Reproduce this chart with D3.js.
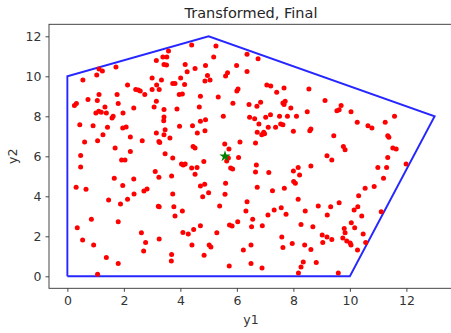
<!DOCTYPE html>
<html>
<head>
<meta charset="utf-8">
<script src="https://cdn.jsdelivr.net/npm/d3@7"></script>
<style>
  body { margin: 0; background: #fff; }
  svg { display: block; font-family: "DejaVu Sans", sans-serif; }
</style>
</head>
<body>
<div id="chart"></div>
<script>
// polygon vertices (closed)
const hullX = [0, 0, 5, 13, 10, 0];
const hullY = [0, 10, 12, 8, 0, 0];

// centre marker
const starX = [5.58];
const starY = [6.0];

// scattered points
const pointsX = [4.40,5.26,3.58,6.36,6.75,5.18,3.15,3.38,3.52,3.42,3.51,4.17,4.89,4.52,5.99,4.24,6.36,5.67,5.60,1.12,
  1.24,1.72,1.04,0.55,3.00,3.33,4.01,4.96,5.05,4.87,3.73,3.81,4.15,3.16,2.13,2.42,2.51,2.58,2.74,3.00,
  3.25,3.96,4.07,4.71,5.34,6.04,6.00,7.06,7.20,7.41,7.67,8.55,1.12,1.76,0.73,1.06,0.25,0.32,1.80,3.15,
  3.07,3.42,2.35,1.33,1.11,1.01,1.20,1.38,1.62,1.58,1.97,3.88,4.67,5.86,6.43,6.71,6.84,7.67,7.71,7.63,
  7.91,8.49,9.12,9.69,9.54,9.62,10.04,3.42,3.41,5.52,4.89,4.71,6.45,6.63,7.02,7.19,7.51,7.79,8.11,10.26,
  10.64,10.78,11.25,11.58,0.44,0.91,1.42,1.96,2.08,3.46,3.97,4.43,4.87,4.60,3.15,3.42,1.26,2.23,3.63,6.78,
  7.11,7.37,7.55,7.63,8.00,6.72,6.88,6.95,6.98,8.58,8.62,9.43,11.34,11.38,0.61,1.07,2.65,3.24,3.27,6.11,
  6.66,4.45,4.52,5.57,5.72,1.69,2.23,3.46,0.47,9.77,9.83,11.52,11.64,1.92,2.04,3.73,4.83,5.64,5.70,6.06,
  9.19,9.36,11.34,0.47,4.04,4.17,4.10,4.40,4.59,5.78,5.85,6.69,8.00,8.17,8.62,10.99,11.30,11.99,3.11,4.52,
  6.66,7.13,8.22,3.24,3.69,1.66,2.35,11.19,8.01,8.07,5.60,1.96,4.71,4.86,0.31,0.66,2.71,2.82,6.72,7.68,
  7.26,10.54,10.86,5.00,4.79,3.73,2.36,5.58,2.13,1.46,8.17,10.31,1.88,6.36,9.62,3.22,3.25,3.77,5.39,7.57,
  7.32,8.42,8.88,9.32,10.28,10.15,11.11,4.07,6.32,3.81,7.10,7.74,9.20,10.42,0.85,1.80,6.03,6.56,5.74,5.83,
  6.90,8.27,6.52,8.69,10.05,10.17,9.80,9.83,0.35,4.71,4.47,4.09,4.28,2.62,5.29,10.47,9.02,9.19,9.36,9.75,
  9.89,10.01,10.04,7.59,0.54,3.25,2.77,9.04,10.56,7.96,0.93,4.41,5.02,5.08,6.50,8.40,7.63,8.62,6.23,10.27,
  2.70,4.84,3.69,1.38,3.68,8.35,1.80,6.50,8.81,5.73,8.27,6.89,1.07,8.18,9.59];
const pointsY = [11.56,11.51,11.26,11.10,10.88,10.96,10.79,10.96,10.96,10.59,10.56,10.59,10.54,10.39,10.54,10.23,10.24,10.18,10.01,10.36,
  10.26,10.46,10.06,9.81,9.92,9.81,9.92,10.04,9.81,9.76,9.64,9.64,9.59,9.56,9.57,9.34,9.31,9.26,9.09,9.34,
  9.34,9.09,9.12,9.00,8.97,9.37,9.26,9.57,9.51,9.20,9.42,9.37,9.09,9.09,8.84,8.79,8.54,8.64,8.64,8.75,
  8.47,8.34,8.42,8.47,8.25,8.17,8.20,8.17,8.00,7.92,8.17,8.37,8.47,8.65,8.59,8.50,8.70,8.59,8.75,8.67,
  8.42,8.23,8.79,8.54,8.28,8.33,8.23,7.97,7.78,8.00,7.83,7.75,7.95,7.88,7.95,8.08,8.00,8.00,8.00,7.70,
  7.53,7.41,7.70,8.00,7.58,7.53,7.45,7.41,7.46,7.33,7.50,7.53,7.28,7.16,7.16,7.08,7.08,6.96,6.91,7.62,
  7.45,7.45,7.62,7.58,7.25,7.20,7.08,7.20,7.13,7.28,7.36,7.03,7.03,6.95,6.71,6.78,6.78,6.74,6.69,6.71,
  6.66,6.49,6.41,6.61,6.36,6.41,6.24,6.13,6.04,6.49,6.33,6.41,6.36,5.82,5.82,5.91,5.74,5.77,5.91,5.94,
  6.03,5.82,5.94,5.46,5.62,5.61,5.57,5.41,5.44,5.41,5.37,5.57,5.27,5.44,5.52,5.44,5.44,5.62,5.24,5.10,
  5.22,5.19,5.07,4.95,5.02,4.90,4.87,4.90,4.74,4.65,4.65,4.54,4.52,4.60,4.45,4.35,4.27,4.37,4.45,4.40,
  4.28,4.40,4.49,4.18,3.98,4.12,4.12,4.10,3.85,3.82,3.85,4.03,3.62,3.73,3.68,3.50,3.48,3.48,3.51,3.43,
  3.31,3.26,3.51,3.48,3.48,3.31,3.23,3.26,3.26,3.01,3.06,3.10,3.06,3.01,2.85,2.73,2.73,2.85,2.56,2.51,
  2.53,2.59,2.48,2.48,2.68,2.43,2.39,2.18,2.43,2.53,2.34,2.19,2.11,2.18,2.18,2.11,2.06,1.97,1.84,1.92,
  1.76,1.67,1.56,1.97,1.81,1.86,1.69,1.69,1.69,1.64,1.56,1.56,1.56,1.47,1.56,1.56,1.44,1.34,1.31,1.31,
  1.27,1.05,1.09,0.94,0.77,0.72,0.64,0.64,0.69,0.52,0.47,0.42,0.10,0.17,0.17];

const xTicks = [0, 2, 4, 6, 8, 10, 12];
const yTicks = [0, 2, 4, 6, 8, 10, 12];

const width = 451;
const height = 333;
const plot = {left: 49, top: 24.3, right: 453, bottom: 288.3};

const svg = d3.select('#chart')
  .append('svg')
  .attr('width', width)
  .attr('height', height);

const x = d3.scaleLinear()
  .domain([-0.65, 13.65])
  .range([plot.left, plot.right]);

const y = d3.scaleLinear()
  .domain([-0.6, 12.6])
  .range([plot.bottom, plot.top]);

// polygon outline
const line = d3.line()
  .x(d => x(d[0]))
  .y(d => y(d[1]));

svg.append('path')
  .datum(hullX.map((v, i) => [v, hullY[i]]))
  .attr('fill', 'none')
  .attr('stroke', '#0000ff')
  .attr('stroke-width', 1.9)
  .attr('stroke-opacity', 0.85)
  .attr('stroke-linejoin', 'miter')
  .attr('d', line);

// points
svg.append('g')
  .selectAll('circle')
  .data(pointsX.map((v, i) => [v, pointsY[i]]))
  .enter()
  .append('circle')
  .attr('cx', d => x(d[0]))
  .attr('cy', d => y(d[1]))
  .attr('r', 2.5)
  .attr('fill', '#ff0000');

// star
svg.append('g')
  .selectAll('path')
  .data(starX.map((v, i) => [v, starY[i]]))
  .enter()
  .append('path')
  .attr('transform', d => `translate(${x(d[0])},${y(d[1])})`)
  .attr('d', d3.symbol().type(d3.symbolStar).size(40))
  .attr('fill', '#008000');

// axes
const xAxis = svg.append('g')
  .attr('transform', `translate(0,${plot.bottom})`)
  .call(d3.axisBottom(x).tickValues(xTicks).tickSize(3.5).tickPadding(4).tickSizeOuter(0));

const yAxis = svg.append('g')
  .attr('transform', `translate(${plot.left},0)`)
  .call(d3.axisLeft(y).tickValues(yTicks).tickSize(3.5).tickPadding(4).tickSizeOuter(0));

[xAxis, yAxis].forEach(a => {
  a.select('.domain').remove();
  a.selectAll('line').attr('stroke', '#333').attr('stroke-width', 0.9);
  a.selectAll('text')
    .style('font-family', '"DejaVu Sans", sans-serif')
    .style('font-size', '12.5px')
    .attr('fill', '#333');
});

// frame
svg.append('rect')
  .attr('x', plot.left)
  .attr('y', plot.top)
  .attr('width', plot.right - plot.left)
  .attr('height', plot.bottom - plot.top)
  .attr('fill', 'none')
  .attr('stroke', '#333')
  .attr('stroke-width', 0.9);

// title and labels
svg.append('text')
  .attr('x', (plot.left + plot.right) / 2)
  .attr('y', 18)
  .attr('text-anchor', 'middle')
  .text('Transformed, Final')
  .style('font-size', '14.5px')
  .attr('fill', '#262626');

svg.append('text')
  .attr('x', (plot.left + plot.right) / 2)
  .attr('y', 324)
  .attr('text-anchor', 'middle')
  .text('y1')
  .style('font-size', '12.5px')
  .attr('fill', '#333');

svg.append('text')
  .attr('transform', `translate(17,${(plot.top + plot.bottom) / 2}) rotate(-90)`)
  .attr('text-anchor', 'middle')
  .text('y2')
  .style('font-size', '12.5px')
  .attr('fill', '#333');
</script>
</body>
</html>
